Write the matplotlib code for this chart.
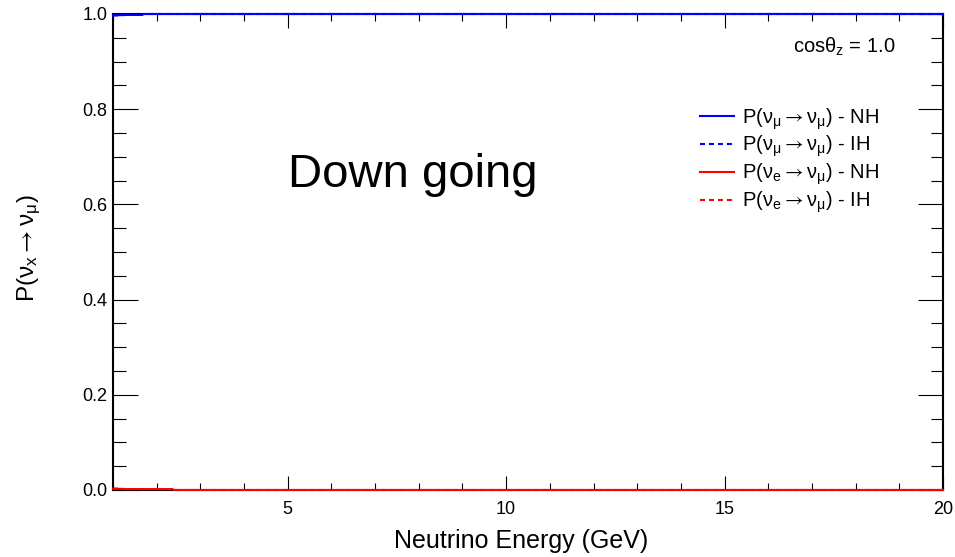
import matplotlib
matplotlib.use("Agg")
import matplotlib.pyplot as plt
from matplotlib.ticker import MultipleLocator, FormatStrFormatter

plt.rcParams['font.family'] = ['Liberation Sans', 'DejaVu Sans']
plt.rcParams['mathtext.fontset'] = 'custom'
plt.rcParams['mathtext.rm'] = 'Liberation Sans'
plt.rcParams['mathtext.it'] = 'Liberation Sans:italic'
plt.rcParams['mathtext.bf'] = 'Liberation Sans:bold'
plt.rcParams['mathtext.sf'] = 'STIXGeneral'  # long thin arrow like ROOT's

# oscillation probabilities, down going (cos theta_z = 1.0)
energy = [1.0, 1.3, 1.66, 1.7, 2.0, 2.36, 2.4, 5.0, 10.0, 15.0, 20.0]
p_mumu_nh = [0.997, 0.998, 0.998, 1.0, 1.0, 1.0, 1.0, 1.0, 1.0, 1.0, 1.0]
p_mumu_ih = [0.997, 0.998, 0.998, 1.0, 1.0, 1.0, 1.0, 1.0, 1.0, 1.0, 1.0]
p_emu_nh = [0.003, 0.002, 0.002, 0.002, 0.002, 0.002, 0.0, 0.0, 0.0, 0.0, 0.0]
p_emu_ih = [0.003, 0.002, 0.002, 0.002, 0.002, 0.002, 0.0, 0.0, 0.0, 0.0, 0.0]

arrow = r'\mathsf{\rightarrow}'
labels = [r'P($\mathrm{ν_{μ}}' + arrow + r'\mathrm{ν_{μ}}$) - NH',
          r'P($\mathrm{ν_{μ}}' + arrow + r'\mathrm{ν_{μ}}$) - IH',
          r'P($\mathrm{ν_{e}}' + arrow + r'\mathrm{ν_{μ}}$) - NH',
          r'P($\mathrm{ν_{e}}' + arrow + r'\mathrm{ν_{μ}}$) - IH']
ylab = r'P($\mathrm{ν_{x}}' + arrow + r'\mathrm{ν_{μ}}$)'

W, H = 955, 557
fig = plt.figure(figsize=(W / 100, H / 100), dpi=100)
ax = fig.add_axes([113 / W, 1 - 490 / H, 830 / W, 476 / H])

dash = (0, (2.4, 1.9))
ax.plot(energy, p_mumu_nh, color='#0000ff', lw=1.5, label=labels[0], clip_on=False, zorder=3)
ax.plot(energy, p_mumu_ih, color='#0000ff', lw=1.5, ls=dash, label=labels[1], clip_on=False, zorder=3)
ax.plot(energy, p_emu_nh, color='#ff0000', lw=1.5, label=labels[2], clip_on=False, zorder=3)
ax.plot(energy, p_emu_ih, color='#ff0000', lw=1.5, ls=dash, label=labels[3], clip_on=False, zorder=3)

ax.set_xlim(1, 20)
ax.set_ylim(0, 1)
ax.xaxis.set_major_locator(MultipleLocator(5))
ax.xaxis.set_minor_locator(MultipleLocator(1))
ax.yaxis.set_major_locator(MultipleLocator(0.2))
ax.yaxis.set_minor_locator(MultipleLocator(0.05))
ax.yaxis.set_major_formatter(FormatStrFormatter('%.1f'))

for s in ax.spines.values():
    s.set_linewidth(1.5)

ax.tick_params(axis='both', which='both', direction='in', top=True, right=True, width=0.8)
ax.tick_params(axis='x', which='major', length=10, pad=8, labelsize=13)
ax.tick_params(axis='x', which='minor', length=5)
ax.tick_params(axis='y', which='major', length=18, pad=4, labelsize=13)
ax.tick_params(axis='y', which='minor', length=9)

fig.text(521 / W, 1 - 548 / H, 'Neutrino Energy (GeV)', fontsize=18, ha='center', va='baseline')
fig.text(29 / W, 1 - 248 / H, ylab, fontsize=17.5, rotation=90, ha='center', va='center')

fig.text(288 / W, 1 - 187 / H, 'Down going', fontsize=34, ha='left', va='baseline')
fig.text(793 / W, 1 - 53 / H, r'cos$\mathrm{θ_{z}}$ = 1.0', fontsize=14.5, ha='left', va='baseline')

ax.legend(loc='upper left', bbox_to_anchor=((700 - 113) / 830, (490 - 106) / 476),
          frameon=False, fontsize=14.5, handlelength=1.7, handletextpad=0.4,
          labelspacing=0.12, borderpad=0, borderaxespad=0)

fig.savefig('out.png', dpi=100)
